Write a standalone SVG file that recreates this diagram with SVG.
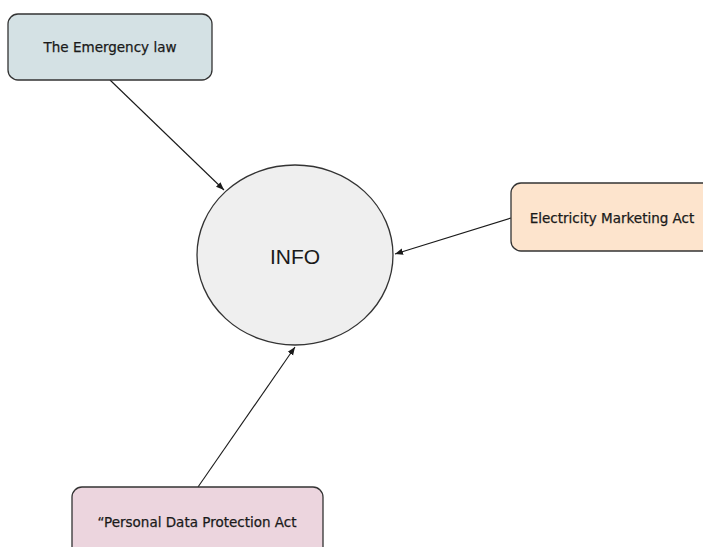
<svg xmlns="http://www.w3.org/2000/svg" width="703" height="547" viewBox="0 0 703 547">
<style>
.box{stroke:#333;stroke-width:1.3}
.lbl{font-family:"DejaVu Sans",Verdana,sans-serif;font-size:13.5px;fill:#1a1a1a;stroke:#1a1a1a;stroke-width:0.25;text-anchor:middle;dominant-baseline:central}
.conn{stroke:#1a1a1a;stroke-width:1.1;fill:none;marker-end:url(#ah)}
</style>
<defs>
<marker id="ah" viewBox="0 0 10 10" refX="10" refY="5" markerWidth="8" markerHeight="8" markerUnits="userSpaceOnUse" orient="auto">
<path d="M0,1 L10,5 L0,9 Z" fill="#1a1a1a"/>
</marker>
</defs>
<rect width="703" height="547" fill="#ffffff"/>
<g id="connectors">
<line class="conn" x1="110" y1="80" x2="224" y2="190"/>
<line class="conn" x1="511" y1="218" x2="395" y2="254"/>
<line class="conn" x1="198" y1="487" x2="295" y2="347"/>
</g>
<g id="info">
<ellipse cx="295" cy="255" rx="98" ry="90" fill="#efefef" stroke="#333" stroke-width="1.3"/>
<text x="295" y="256" font-family="Liberation Sans,Arial,sans-serif" font-size="21" fill="#1a1a1a" text-anchor="middle" dominant-baseline="central">INFO</text>
</g>
<g id="emergency">
<rect class="box" x="8" y="14" width="204" height="66" rx="10" fill="#d4e1e4"/>
<text class="lbl" x="110" y="47">The Emergency law</text>
</g>
<g id="electricity">
<rect class="box" x="511" y="183" width="210" height="68" rx="10" fill="#fde4cd"/>
<text class="lbl" x="612" y="218">Electricity Marketing Act</text>
</g>
<g id="personal">
<rect class="box" x="72" y="487" width="251" height="80" rx="10" fill="#ecd5de"/>
<text class="lbl" x="197" y="522">“Personal Data Protection Act</text>
</g>
</svg>
